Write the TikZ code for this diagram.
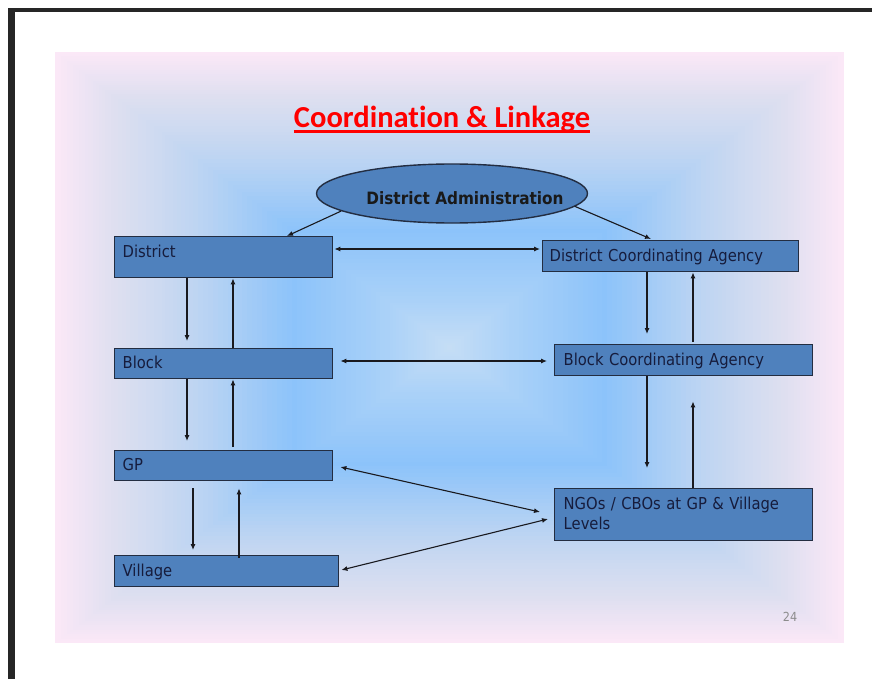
\documentclass[tikz,border=0pt]{standalone}
\usepackage{fontspec}
\setmainfont{DejaVu Sans}
\newfontfamily\boxfont[FakeStretch=0.9]{DejaVu Sans}
\newfontfamily\titlefont[Ligatures={NoCommon,NoDiscretionary}]{Carlito}
\usetikzlibrary{arrows.meta,shapes.geometric}
\definecolor{boxfill}{RGB}{79,129,189}
\definecolor{boxdraw}{RGB}{35,45,65}
\definecolor{boxtext}{RGB}{22,28,60}
\definecolor{arrowc}{RGB}{25,25,30}
\definecolor{gA}{RGB}{251,232,247}
\definecolor{gB}{RGB}{222,223,240}
\definecolor{gC}{RGB}{190,213,242}
\definecolor{gD}{RGB}{140,195,250}
\definecolor{gE}{RGB}{172,210,248}
\definecolor{gF}{RGB}{198,222,245}
\definecolor{pagenum}{RGB}{140,140,140}
\tikzset{
  box/.style={rectangle, draw=boxdraw, line width=1.4pt, fill=boxfill,
    inner xsep=8pt, inner ysep=0pt, anchor=north west, align=left,
    text=boxtext, font=\boxfont\fontsize{16.4}{20}\selectfont,
    text height=12pt, text depth=2pt},
  link/.style={draw=arrowc, line width=1.1pt, -{Latex[length=6pt,width=5pt]}},
  dlink/.style={draw=arrowc, line width=1.1pt, {Latex[length=6pt,width=5pt]}-{Latex[length=6pt,width=5pt]}}
}
\begin{document}
\begin{tikzpicture}[x=1pt,y=-1pt]
\useasboundingbox (0,0) rectangle (872,679);
\fill[white] (0,0) rectangle (872,679);
% slide frame
\fill[black!85] (8,8) rectangle (15,679);
\fill[black!85] (8,8) rectangle (872,12.5);
% rectangular gradient background
\def\cx{449.5}\def\cy{347.5}\def\hw{394.5}\def\hh{295.5}
\foreach \ra/\rb/\ca/\cb in {1/0.85/gA/gB, 0.85/0.65/gB/gC, 0.65/0.4/gC/gD, 0.4/0.15/gD/gE, 0.15/0/gE/gF}{
  \foreach \j in {0,...,19}{
    \pgfmathsetmacro\r{\ra+(\rb-\ra)*\j/20}
    \pgfmathtruncatemacro\p{5*\j}
    \fill[\cb!\p!\ca] ({\cx-\r*\hw},{\cy-\r*\hh}) rectangle ({\cx+\r*\hw},{\cy+\r*\hh});
  }
}
% title
\node[inner sep=0pt, anchor=base, text=red, font=\titlefont\bfseries\fontsize{30.5}{36}\selectfont] (title) at (442,128) {Coordination \& Linkage};
\draw[red, line width=3pt] ([yshift=-3.5pt]title.base west) -- ([yshift=-3.5pt]title.base east);
% ellipse
\node[ellipse, draw=boxdraw, line width=1.4pt, fill=boxfill, minimum width=271pt, minimum height=59pt, inner sep=0pt] (admin) at (452,193.5) {};
\node[inner sep=0pt, text=black!90, font=\boxfont\bfseries\fontsize{17}{20}\selectfont] (admintext) at (465,198) {District Administration};
% left column
\node[box, minimum width=218pt, minimum height=41pt, text width=202pt, text depth=11pt] (district) at (114,236) {District};
\node[box, minimum width=218pt, minimum height=30pt, text width=202pt] (block) at (114,348) {Block};
\node[box, minimum width=218pt, minimum height=30pt, text width=202pt] (gp) at (114,450) {GP};
\node[box, minimum width=224pt, minimum height=31pt, text width=208pt] (village) at (114,555) {Village};
% right column
\node[box, minimum width=256pt, minimum height=31pt, inner xsep=7pt, text width=242pt] (dca) at (542,240) {District Coordinating Agency};
\node[box, minimum width=258pt, minimum height=31pt, text width=240pt, inner xsep=9pt] (bca) at (554,344) {Block Coordinating Agency};
\node[box, minimum width=258pt, minimum height=52pt, text width=240pt, inner xsep=9pt, text depth=22pt] (ngo) at (554,488) {NGOs / CBOs at GP \& Village\\Levels};
% page number
\node[text=pagenum, font=\boxfont\fontsize{12.5}{14}\selectfont, inner sep=0pt] (pnum) at (790,617) {24};
% connectors from administration
\draw[link] (admin.189) -- ([xshift=173pt]district.north west);
\draw[link] (admin.354) -- ([xshift=109pt,yshift=1pt]dca.north west);
% left column verticals
\draw[link] ([xshift=73pt]district.south west) -- ([xshift=73pt,yshift=7pt]block.north west);
\draw[link] ([xshift=119pt]block.north west) -- ([xshift=119pt]district.south west);
\draw[link] ([xshift=73pt]block.south west) -- ([xshift=73pt,yshift=9pt]gp.north west);
\draw[link] ([xshift=119pt,yshift=3pt]gp.north west) -- ([xshift=119pt]block.south west);
\draw[link] ([xshift=79pt,yshift=-7pt]gp.south west) -- ([xshift=79pt,yshift=5pt]village.north west);
\draw[link] ([xshift=125pt,yshift=-3pt]village.north west) -- ([xshift=125pt,yshift=-7pt]gp.south west);
% right column verticals
\draw[link] ([xshift=105pt]dca.south west) -- ([xshift=93pt,yshift=10pt]bca.north west);
\draw[link] ([xshift=139pt,yshift=2pt]bca.north west) -- ([xshift=151pt]dca.south west);
\draw[link] ([xshift=93pt]bca.south west) -- ([xshift=93pt,yshift=20pt]ngo.north west);
\draw[link] ([xshift=139pt]ngo.north west) -- ([xshift=139pt,yshift=-25pt]bca.south west);
% horizontal links
\draw[dlink] ([xshift=1pt,yshift=-13pt]district.north east) -- ([xshift=-2pt,yshift=-9pt]dca.north west);
\draw[dlink] ([xshift=7pt,yshift=-13pt]block.north east) -- ([xshift=-7pt,yshift=-17pt]bca.north west);
\draw[dlink] ([xshift=7pt,yshift=-17pt]gp.north east) -- ([xshift=-14pt,yshift=-24pt]ngo.north west);
\draw[dlink] ([xshift=2pt,yshift=-15pt]village.north east) -- ([xshift=-6pt,yshift=-31pt]ngo.north west);
\end{tikzpicture}
\end{document}
